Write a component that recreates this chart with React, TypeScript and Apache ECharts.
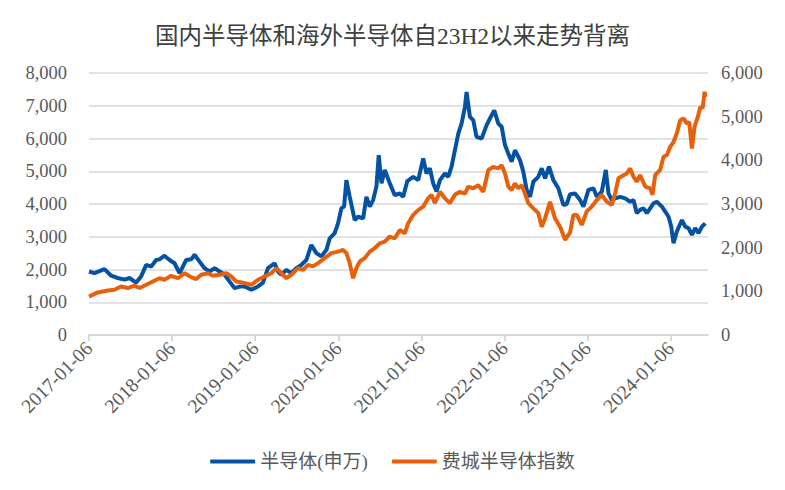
import React, { useEffect, useRef } from 'react';
import * as echarts from 'echarts';

const titleText = '国内半导体和海外半导体自23H2以来走势背离';
const seriesNames = ['半导体(申万)', '费城半导体指数'];
const xTickLabels = ['2017-01-06', '2018-01-06', '2019-01-06', '2020-01-06', '2021-01-06', '2022-01-06', '2023-01-06', '2024-01-06'];
const xAxisStart = '2017-01-06';
const xAxisEnd = '2024-06-18';

// time in decimal years
const semiYears = [2017.014, 2017.079, 2017.200, 2017.280, 2017.360, 2017.441, 2017.501, 2017.581, 2017.641, 2017.702, 2017.762, 2017.822, 2017.862, 2017.922, 2017.983, 2018.043, 2018.103, 2018.143, 2018.183, 2018.244, 2018.284, 2018.344, 2018.404, 2018.465, 2018.525, 2018.585, 2018.645, 2018.706, 2018.766, 2018.826, 2018.886, 2018.966, 2019.047, 2019.107, 2019.167, 2019.247, 2019.288, 2019.328, 2019.388, 2019.448, 2019.508, 2019.569, 2019.629, 2019.689, 2019.749, 2019.810, 2019.870, 2019.910, 2019.970, 2020.010, 2020.051, 2020.083, 2020.111, 2020.151, 2020.211, 2020.251, 2020.312, 2020.352, 2020.392, 2020.432, 2020.472, 2020.500, 2020.533, 2020.573, 2020.633, 2020.693, 2020.753, 2020.794, 2020.844, 2020.914, 2020.975, 2021.035, 2021.075, 2021.115, 2021.155, 2021.196, 2021.236, 2021.296, 2021.336, 2021.376, 2021.416, 2021.457, 2021.497, 2021.537, 2021.557, 2021.597, 2021.637, 2021.677, 2021.738, 2021.798, 2021.838, 2021.890, 2021.938, 2021.979, 2022.019, 2022.059, 2022.099, 2022.139, 2022.200, 2022.240, 2022.280, 2022.320, 2022.360, 2022.420, 2022.461, 2022.501, 2022.549, 2022.601, 2022.661, 2022.722, 2022.762, 2022.802, 2022.862, 2022.923, 2022.963, 2023.023, 2023.083, 2023.124, 2023.184, 2023.232, 2023.264, 2023.304, 2023.344, 2023.405, 2023.465, 2023.525, 2023.565, 2023.605, 2023.645, 2023.686, 2023.726, 2023.766, 2023.806, 2023.846, 2023.907, 2023.947, 2023.987, 2024.019, 2024.047, 2024.087, 2024.148, 2024.188, 2024.228, 2024.268, 2024.308, 2024.348, 2024.389, 2024.429];
const semiValues = [1940, 1890, 2010, 1810, 1740, 1690, 1740, 1600, 1790, 2140, 2090, 2290, 2310, 2420, 2290, 2190, 1890, 2090, 2290, 2310, 2450, 2240, 2040, 1940, 2040, 1940, 1840, 1630, 1430, 1480, 1480, 1380, 1480, 1600, 2040, 2190, 1940, 1840, 1990, 1890, 2040, 2140, 2290, 2750, 2500, 2400, 2600, 2950, 3110, 3410, 3870, 3920, 4730, 4220, 3510, 3610, 3560, 4220, 3920, 4120, 4530, 5490, 4630, 5040, 4630, 4270, 4320, 4220, 4700, 4830, 4730, 5390, 4930, 5090, 4630, 4380, 4730, 4930, 4830, 5140, 5640, 6150, 6460, 6960, 7420, 6660, 6560, 6050, 6000, 6410, 6610, 6860, 6460, 6360, 5800, 5540, 5290, 5640, 5340, 4980, 4430, 4220, 4680, 4830, 5090, 4780, 5140, 4730, 4480, 3970, 4000, 4300, 4320, 4120, 3920, 4430, 4480, 4220, 4380, 5040, 4330, 4120, 4170, 4220, 4170, 4070, 4120, 3720, 3820, 3870, 3720, 3870, 4020, 4070, 3920, 3770, 3610, 3310, 2800, 3160, 3510, 3310, 3260, 3060, 3260, 3110, 3310, 3410];

const soxYears = [2017.014, 2017.119, 2017.240, 2017.320, 2017.400, 2017.481, 2017.561, 2017.621, 2017.702, 2017.782, 2017.862, 2017.922, 2018.003, 2018.083, 2018.163, 2018.244, 2018.304, 2018.364, 2018.445, 2018.505, 2018.585, 2018.665, 2018.726, 2018.786, 2018.866, 2018.966, 2019.047, 2019.127, 2019.207, 2019.268, 2019.328, 2019.388, 2019.448, 2019.529, 2019.589, 2019.649, 2019.709, 2019.770, 2019.850, 2019.930, 2020.010, 2020.071, 2020.111, 2020.151, 2020.191, 2020.231, 2020.272, 2020.332, 2020.392, 2020.452, 2020.513, 2020.573, 2020.633, 2020.693, 2020.753, 2020.814, 2020.854, 2020.914, 2020.975, 2021.035, 2021.095, 2021.135, 2021.175, 2021.236, 2021.296, 2021.356, 2021.416, 2021.477, 2021.537, 2021.577, 2021.637, 2021.698, 2021.758, 2021.818, 2021.878, 2021.938, 2021.979, 2022.019, 2022.059, 2022.099, 2022.139, 2022.179, 2022.220, 2022.260, 2022.300, 2022.360, 2022.420, 2022.461, 2022.501, 2022.561, 2022.621, 2022.682, 2022.742, 2022.802, 2022.842, 2022.883, 2022.943, 2023.003, 2023.063, 2023.124, 2023.184, 2023.244, 2023.304, 2023.344, 2023.385, 2023.445, 2023.485, 2023.525, 2023.565, 2023.605, 2023.645, 2023.706, 2023.766, 2023.794, 2023.826, 2023.886, 2023.927, 2023.967, 2024.007, 2024.047, 2024.087, 2024.127, 2024.168, 2024.208, 2024.236, 2024.268, 2024.300, 2024.340, 2024.369, 2024.397, 2024.421, 2024.429];
const soxValues = [880, 975, 1020, 1035, 1110, 1075, 1130, 1075, 1150, 1225, 1300, 1265, 1355, 1300, 1415, 1325, 1280, 1380, 1415, 1355, 1380, 1415, 1340, 1225, 1200, 1150, 1265, 1340, 1415, 1530, 1415, 1300, 1380, 1530, 1490, 1605, 1570, 1645, 1760, 1875, 1910, 1950, 1875, 1645, 1300, 1530, 1685, 1760, 1910, 1990, 2100, 2140, 2255, 2215, 2405, 2330, 2560, 2750, 2860, 2940, 3130, 3210, 3020, 3280, 3130, 3020, 3210, 3280, 3240, 3400, 3360, 3430, 3280, 3780, 3850, 3815, 3890, 3700, 3400, 3320, 3470, 3360, 3430, 3240, 3020, 2900, 2790, 2480, 2670, 3050, 2670, 2480, 2180, 2350, 2750, 2750, 2520, 2830, 2940, 3090, 3210, 3050, 2980, 3240, 3590, 3660, 3700, 3815, 3625, 3510, 3660, 3400, 3360, 3210, 3660, 3780, 4080, 4120, 4310, 4420, 4620, 4920, 4960, 4840, 4880, 4270, 4770, 5000, 5220, 5190, 5570, 5450];

const leftAxisMax = 8000;
const rightAxisMax = 6000;
const axisStep = 1000;

function dateToYear(s: string): number {
  const [y, m, d] = s.split('-').map(Number);
  const start = Date.UTC(y, 0, 1);
  const end = Date.UTC(y + 1, 0, 1);
  return y + (Date.UTC(y, m - 1, d) - start) / (end - start);
}

const SERIF = 'Liberation Serif, serif';
const CJK = 'Liberation Serif, Noto Sans CJK SC, serif';

export default function App() {
  const ref = useRef<HTMLDivElement>(null);
  useEffect(() => {
    document.body.style.margin = '0';
    if (!ref.current) return;
    const chart = echarts.init(ref.current, undefined, { renderer: 'svg' });
    const tickPos = xTickLabels.map(dateToYear);
    const fmtX = (v: number) => {
      const i = tickPos.findIndex((p) => Math.abs(p - v) < 0.002);
      return i >= 0 ? xTickLabels[i] : '';
    };
    const fmtY = (v: number) => v.toLocaleString('en-US');
    chart.setOption({
      animation: false,
      backgroundColor: '#ffffff',
      title: {
        text: titleText,
        left: 'center',
        top: 19,
        textStyle: { fontSize: 23.5, fontWeight: 'normal', color: '#404040', fontFamily: CJK },
      },
      legend: {
        top: 447,
        left: 'center',
        itemWidth: 45,
        itemHeight: 4,
        itemGap: 24,
        icon: 'roundRect',
        textStyle: { fontSize: 19, color: '#595959', fontFamily: CJK },
        data: seriesNames,
      },
      grid: { left: 89, right: 77, top: 73, bottom: 155 },
      xAxis: {
        type: 'value',
        min: dateToYear(xAxisStart),
        max: dateToYear(xAxisEnd),
        axisLine: { show: true, lineStyle: { color: '#d9d9d9', width: 2 } },
        axisTick: { show: true, customValues: tickPos, length: 6, lineStyle: { color: '#d9d9d9', width: 2 } },
        axisLabel: {
          customValues: tickPos,
          rotate: 45,
          margin: 10,
          formatter: fmtX,
          fontFamily: SERIF,
          fontSize: 19.5,
          color: '#595959',
        },
        splitLine: { show: false },
      },
      yAxis: [
        {
          type: 'value',
          min: 0,
          max: leftAxisMax,
          interval: axisStep,
          axisLine: { show: false },
          axisTick: { show: false },
          axisLabel: { formatter: fmtY, margin: 22, fontFamily: SERIF, fontSize: 18.5, color: '#595959' },
          splitLine: { lineStyle: { color: '#d9d9d9', width: 1.5 } },
        },
        {
          type: 'value',
          min: 0,
          max: rightAxisMax,
          interval: axisStep,
          axisLine: { show: false },
          axisTick: { show: false },
          axisLabel: { formatter: fmtY, margin: 13, fontFamily: SERIF, fontSize: 18.5, color: '#595959' },
          splitLine: { show: false },
        },
      ],
      series: [
        {
          name: seriesNames[0],
          type: 'line',
          yAxisIndex: 0,
          showSymbol: false,
          color: '#0652A2',
          lineStyle: { width: 4, color: '#0652A2' },
          data: semiYears.map((t, i) => [t, semiValues[i]]),
        },
        {
          name: seriesNames[1],
          type: 'line',
          yAxisIndex: 1,
          showSymbol: false,
          color: '#E9600C',
          lineStyle: { width: 4, color: '#E9600C' },
          data: soxYears.map((t, i) => [t, soxValues[i]]),
        },
      ],
    });
    return () => chart.dispose();
  }, []);
  return <div ref={ref} style={{ width: 785, height: 490 }} />;
}
